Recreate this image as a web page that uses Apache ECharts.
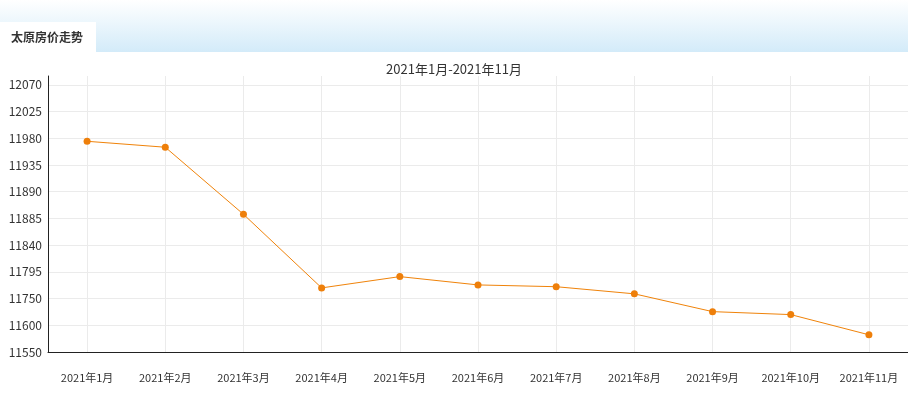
<!DOCTYPE html>
<html>
<head>
<meta charset="utf-8">
<script src="https://cdn.jsdelivr.net/npm/echarts@6/dist/echarts.min.js"></script>
<style>
html,body{margin:0;padding:0;background:#fff;}
#chart{width:908px;height:394px;}
</style>
</head>
<body>
<div id="chart"></div>
<script>
var categories = ['2021年1月','2021年2月','2021年3月','2021年4月','2021年5月','2021年6月','2021年7月','2021年8月','2021年9月','2021年10月','2021年11月'];
var prices = [11975, 11965, 11852, 11728, 11747, 11733, 11730, 11718, 11688, 11683, 11649];
var yTickValues = [11620, 11665, 11710, 11755, 11800, 11845, 11890, 11935, 11980, 12025, 12070];
var yTickLabels = ['11550', '11600', '11750', '11795', '11840', '11885', '11890', '11935', '11980', '12025', '12070'];
var headerTitle = '太原房价走势';
var chartTitle = '2021年1月-2021年11月';

var font = '"Noto Sans CJK SC", "Noto Sans", sans-serif';
var chart = echarts.init(document.getElementById('chart'), null, {renderer: 'canvas'});
chart.setOption({
  backgroundColor: '#ffffff',
  animation: false,
  graphic: [
    {type: 'rect', left: 0, top: 0, z: -10, shape: {width: 908, height: 52},
     style: {fill: new echarts.graphic.LinearGradient(0, 0, 0, 1, [{offset: 0, color: '#ffffff'}, {offset: 1, color: '#d3ebf9'}])}},
    {type: 'rect', left: 0, top: 22, z: -9, shape: {width: 96, height: 30}, style: {fill: '#ffffff'}},
    {type: 'text', left: 11, top: 31, z: 5, style: {text: headerTitle, fill: '#333', font: 'bold 12px ' + font}}
  ],
  title: {
    text: chartTitle, left: 'center', top: 58,
    textStyle: {fontSize: 13, fontWeight: 'normal', color: '#333', fontFamily: font}
  },
  grid: {left: 48, right: 0, top: 76, bottom: 42, containLabel: false},
  xAxis: {
    type: 'category', data: categories, boundaryGap: true,
    axisLine: {show: true, lineStyle: {color: '#222', width: 1}},
    axisTick: {show: false},
    axisLabel: {color: '#333', fontSize: 11, margin: 20, fontFamily: font, interval: 0},
    splitLine: {show: true, alignWithLabel: true, lineStyle: {color: '#ebebeb'}}
  },
  yAxis: {
    type: 'value', min: 11620, max: 12085, interval: 45,
    axisLine: {show: true, lineStyle: {color: '#222', width: 1}},
    axisTick: {show: false},
    axisLabel: {
      color: '#333', fontSize: 12, margin: 6, fontFamily: font,
      formatter: function (v) {
        var i = yTickValues.indexOf(Math.round(v));
        return i >= 0 ? yTickLabels[i] : '';
      }
    },
    splitLine: {show: true, showMaxLine: false, lineStyle: {color: '#ebebeb'}}
  },
  series: [{
    type: 'line', data: prices,
    symbol: 'circle', symbolSize: 7,
    lineStyle: {color: '#f0830a', width: 1},
    itemStyle: {color: '#ee7f0a'}
  }]
});
</script>
</body>
</html>
